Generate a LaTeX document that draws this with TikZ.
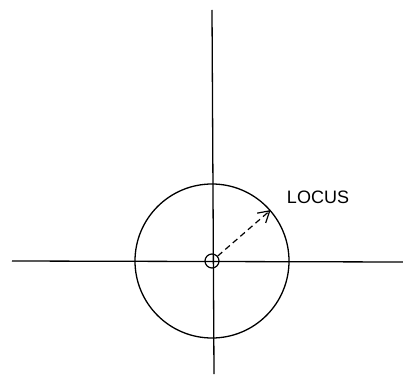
\documentclass[tikz,border=0pt]{standalone}
\usepackage{fontspec}
\setmainfont{Liberation Sans}
\usetikzlibrary{arrows.meta, positioning}

\begin{document}
\begin{tikzpicture}[
    x=1pt, y=-1pt,
    axis/.style={line width=1.3pt},
    locus_circle/.style={circle, draw, line width=1.3pt, minimum size=154pt, inner sep=0pt},
    origin_mark/.style={circle, draw, line width=1.2pt, minimum size=14pt, inner sep=0pt},
    radius_arrow/.style={line width=1.2pt, dash pattern=on 6pt off 4pt, -{Straight Barb[length=11pt, width=13pt, line width=1.2pt]}},
    label_text/.style={font=\fontsize{18}{21}\selectfont, inner sep=0pt}
]
\useasboundingbox (0, 0) rectangle (403, 374);

% --- Ejes ---
\coordinate (top) at (212, 10);
\coordinate (bottom) at (214, 374);
\coordinate (left) at (12, 261);
\coordinate (right) at (403, 262);
\draw[axis] (top) -- (bottom);
\draw[axis] (left) -- (right);

% --- Circulo del lugar y origen ---
\node[locus_circle] (locus) at (212, 261) {};
\node[origin_mark] (origin) at (212, 261) {};

% --- Radio y etiqueta ---
\draw[radius_arrow] (origin) -- (locus.41);
\node[label_text] (lbl) at (318, 197) {LOCUS};

\end{tikzpicture}
\end{document}
